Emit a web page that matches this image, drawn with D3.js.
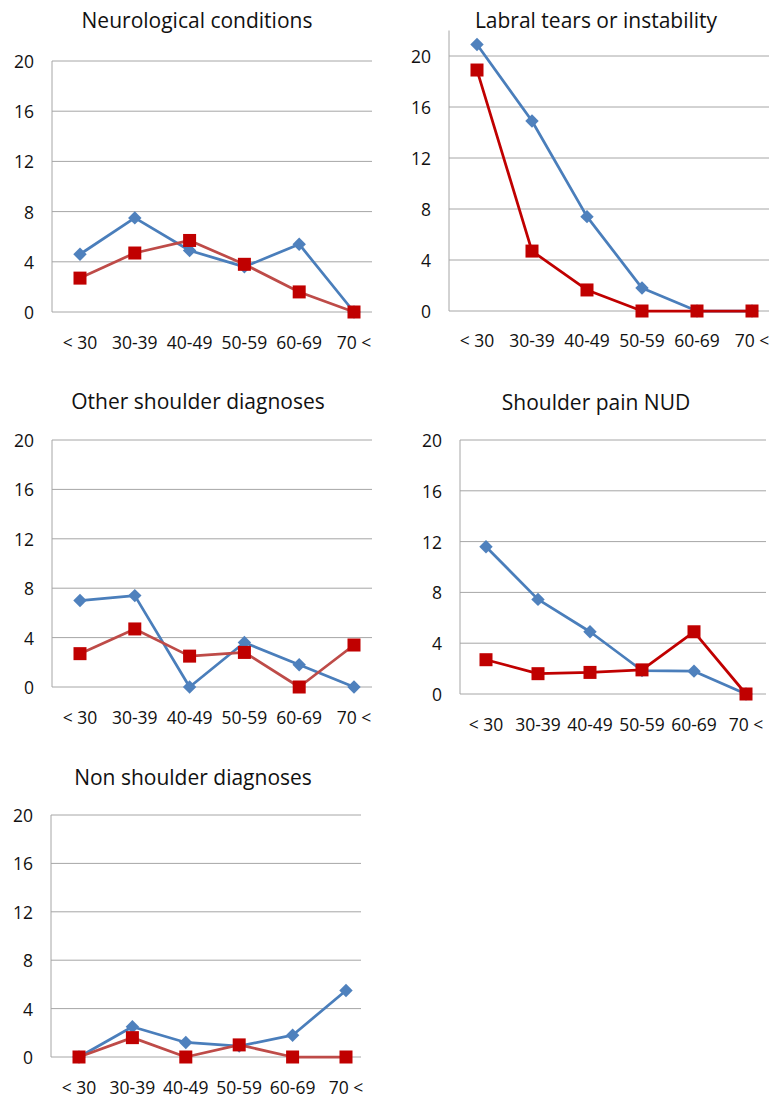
<!DOCTYPE html>
<html>
<head>
<meta charset="utf-8">
<script src="https://cdn.jsdelivr.net/npm/d3@7"></script>
<style>
  html, body { margin: 0; padding: 0; background: #fff; }
  svg { display: block; }
  text { font-family: "Open Sans", "Noto Sans", sans-serif; fill: #111; }
</style>
</head>
<body>
<svg id="chart" width="769" height="1099"></svg>
<script>
// ---- data ----
const categories = ["< 30", "30-39", "40-49", "50-59", "60-69", "70 <"];
const yTicks = [0, 4, 8, 12, 16, 20];
const titles = ["Neurological conditions", "Labral tears or instability", "Other shoulder diagnoses", "Shoulder pain NUD", "Non shoulder diagnoses"];
const neuroBlue  = [4.6, 7.5, 4.9, 3.6, 5.4, 0];
const neuroRed   = [2.7, 4.7, 5.7, 3.8, 1.6, 0];
const labralBlue = [20.9, 14.9, 7.4, 1.8, 0, 0];
const labralRed  = [18.9, 4.7, 1.65, 0, 0, 0];
const otherBlue  = [7.0, 7.4, 0, 3.6, 1.8, 0];
const otherRed   = [2.7, 4.7, 2.5, 2.8, 0, 3.4];
const nudBlue    = [11.6, 7.45, 4.9, 1.85, 1.8, 0];
const nudRed     = [2.7, 1.6, 1.7, 1.9, 4.9, 0];
const nonBlue    = [0, 2.5, 1.2, 0.9, 1.8, 5.5];
const nonRed     = [0, 1.6, 0, 1.0, 0, 0];

// ---- layout (positions, not data) ----
const panels = [
  { title: titles[0], blue: neuroBlue,  red: neuroRed,  ax: 52,  right: 372, y0: 312,  y20: 61,  yMax: 20, x0: 80,  x1: 354, tx: 197, ty: 28,  lx: 349,  redLine: "#BE4B48" },
  { title: titles[1], blue: labralBlue, red: labralRed, ax: 449, right: 769, y0: 311,  y20: 56,  yMax: 22, x0: 477, x1: 752, tx: 596, ty: 28,  lx: 347,  redLine: "#C00000" },
  { title: titles[2], blue: otherBlue,  red: otherRed,  ax: 52,  right: 372, y0: 687,  y20: 440, yMax: 20, x0: 80,  x1: 354, tx: 198, ty: 409, lx: 724,  redLine: "#BE4B48" },
  { title: titles[3], blue: nudBlue,    red: nudRed,    ax: 460, right: 766, y0: 694,  y20: 440, yMax: 20, x0: 486, x1: 746, tx: 596, ty: 410, lx: 731,  redLine: "#C00000" },
  { title: titles[4], blue: nonBlue,    red: nonRed,    ax: 51,  right: 361, y0: 1057, y20: 815, yMax: 20, x0: 79,  x1: 346, tx: 193, ty: 785, lx: 1094, redLine: "#BE4B48" }
];

const svg = d3.select("#chart");
const gridColor = "#A6A6A6";
const blueLine = "#4A7EBB", blueMarker = "#4F81BD", redMarker = "#C00000";

panels.forEach(p => {
  const g = svg.append("g");
  const x = d3.scalePoint().domain(categories).range([p.x0, p.x1]);
  const y = d3.scaleLinear().domain([0, 20]).range([p.y0, p.y20]);
  const yTop = y(p.yMax);

  // gridlines
  g.selectAll("line.grid").data(yTicks).join("line")
    .attr("x1", p.ax).attr("x2", p.right)
    .attr("y1", d => y(d)).attr("y2", d => y(d))
    .attr("stroke", gridColor).attr("stroke-width", 1);

  // y axis line
  g.append("line").attr("x1", p.ax).attr("x2", p.ax).attr("y1", yTop).attr("y2", p.y0)
    .attr("stroke", gridColor).attr("stroke-width", 1);

  // y tick labels
  g.selectAll("text.yt").data(yTicks).join("text")
    .attr("x", p.ax - 18).attr("y", d => y(d))
    .attr("text-anchor", "end").attr("dominant-baseline", "central")
    .style("font-size", "17.5px").text(d => d);

  // x labels
  g.selectAll("text.xt").data(categories).join("text")
    .attr("x", d => x(d)).attr("y", p.lx)
    .attr("text-anchor", "middle")
    .style("font-size", "17.5px").text(d => d);

  // title
  g.append("text").attr("x", p.tx).attr("y", p.ty).attr("text-anchor", "middle")
    .style("font-size", "21px").text(p.title);

  const line = d3.line().x((d, i) => x(categories[i])).y(d => y(d));

  // blue series
  g.append("path").datum(p.blue).attr("d", line)
    .attr("fill", "none").attr("stroke", blueLine).attr("stroke-width", 2.75).attr("stroke-linejoin", "round");
  g.selectAll("path.dia").data(p.blue).join("path")
    .attr("d", d3.symbol().type(d3.symbolSquare).size(90))
    .attr("transform", (d, i) => `translate(${x(categories[i])},${y(d)}) rotate(45)`)
    .attr("fill", blueMarker);

  // red series
  g.append("path").datum(p.red).attr("d", line)
    .attr("fill", "none").attr("stroke", p.redLine).attr("stroke-width", 2.75).attr("stroke-linejoin", "round");
  g.selectAll("rect.sq").data(p.red).join("rect")
    .attr("x", (d, i) => x(categories[i]) - 6.5).attr("y", d => y(d) - 6.5)
    .attr("width", 13).attr("height", 13)
    .attr("fill", redMarker);
});
</script>
</body>
</html>
